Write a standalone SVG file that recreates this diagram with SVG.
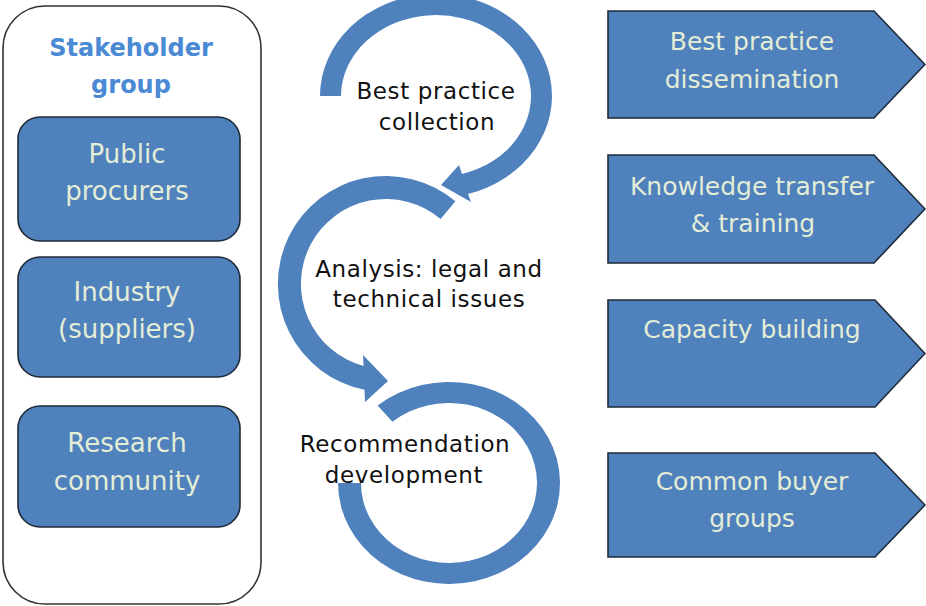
<svg xmlns="http://www.w3.org/2000/svg" width="926" height="606" viewBox="0 0 926 606">
<style>
  .box{fill:#4f81bd;stroke:#1e2a38;stroke-width:1.6}
  .lt{font-family:"DejaVu Sans",sans-serif;font-size:25px;fill:#e4edd6;text-anchor:middle}
  .st{font-family:"DejaVu Sans",sans-serif;font-size:26px;fill:#e4edd6;text-anchor:middle}
  .ct{font-family:"DejaVu Sans",sans-serif;font-size:23px;letter-spacing:0.6px;fill:#111;text-anchor:middle}
  .ring{fill:#4f81bd}
</style>
<rect width="926" height="606" fill="#ffffff"/>
<g id="stakeholder-group">
  <rect x="3" y="6" width="258" height="598" rx="42" ry="42" fill="#ffffff" stroke="#333" stroke-width="1.6"/>
  <text x="131" y="56" font-family="DejaVu Sans,sans-serif" font-size="24" font-weight="bold" fill="#4a8ad4" text-anchor="middle">Stakeholder</text>
  <text x="131" y="93" font-family="DejaVu Sans,sans-serif" font-size="24" font-weight="bold" fill="#4a8ad4" text-anchor="middle">group</text>
</g>
<g id="public-procurers">
  <rect class="box" x="18" y="117" width="222" height="124" rx="22"/>
  <text class="st" x="127" y="163">Public</text>
  <text class="st" x="127" y="200">procurers</text>
</g>
<g id="industry">
  <rect class="box" x="18" y="257" width="222" height="120" rx="22"/>
  <text class="st" x="127" y="301">Industry</text>
  <text class="st" x="127" y="338">(suppliers)</text>
</g>
<g id="research-community">
  <rect class="box" x="18" y="406" width="222" height="121" rx="22"/>
  <text class="st" x="127" y="452">Research</text>
  <text class="st" x="127" y="490">community</text>
</g>
<g id="connectors">
  <path class="ring" d="M 320,96 A 116 102 0 1 1 468,194 L 471,202 L 441,185 L 459,165 L 462,174 A 95 81 0 1 0 341,96 Z"/>
  <path class="ring" d="M 455.4,201.3 A 108 108 0 1 0 364.5,389.8 L 365,402 L 388,381 L 363,355 L 363.6,366 A 85 85 0 1 1 440.6,218.9 Z"/>
  <path class="ring" d="M 377.6,405.6 A 111 101 0 1 1 338,483 L 361,483 A 88 80 0 1 0 392.4,421.7 Z"/>
</g>
<g id="best-practice-collection">
  <text class="ct" x="436" y="99">Best practice</text>
  <text class="ct" x="437" y="130">collection</text>
</g>
<g id="analysis">
  <text class="ct" x="429" y="277">Analysis: legal and</text>
  <text class="ct" x="429" y="307">technical issues</text>
</g>
<g id="recommendation-development">
  <text class="ct" x="405" y="452">Recommendation</text>
  <text class="ct" x="404" y="483">development</text>
</g>
<g id="best-practice-dissemination">
  <path class="box" d="M 608,11 L 874,11 L 925,64.5 L 874,118 L 608,118 Z"/>
  <text class="lt" x="752" y="50">Best practice</text>
  <text class="lt" x="752" y="88">dissemination</text>
</g>
<g id="knowledge-transfer">
  <path class="box" d="M 608,155 L 874,155 L 925,209 L 874,263 L 608,263 Z"/>
  <text class="lt" x="752" y="195">Knowledge transfer</text>
  <text class="lt" x="753" y="232">&amp; training</text>
</g>
<g id="capacity-building">
  <path class="box" d="M 608,300 L 875,300 L 925,353.5 L 875,407 L 608,407 Z"/>
  <text class="lt" x="752" y="338">Capacity building</text>
</g>
<g id="common-buyer-groups">
  <path class="box" d="M 608,453 L 875,453 L 925,505 L 875,557 L 608,557 Z"/>
  <text class="lt" x="752" y="490">Common buyer</text>
  <text class="lt" x="752" y="527">groups</text>
</g>
</svg>
